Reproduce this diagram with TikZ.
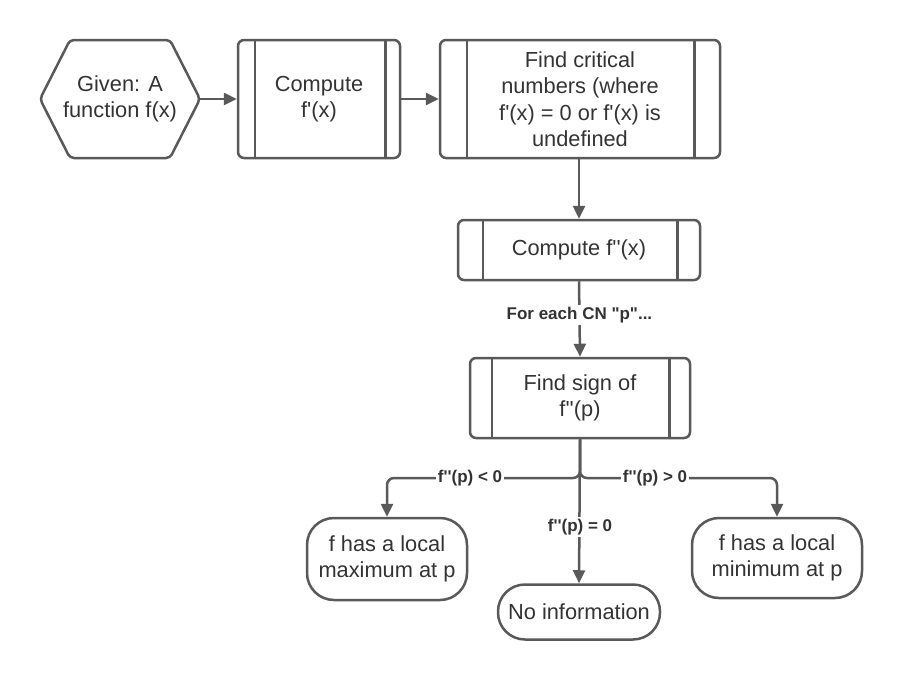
\documentclass[tikz,border=0pt]{standalone}
\usepackage{fontspec}
\setmainfont{Liberation Sans}[Ligatures=TeXOff]
\usetikzlibrary{arrows.meta}
\definecolor{ln}{HTML}{595959}
\definecolor{tx}{HTML}{333333}
\begin{document}
\begin{tikzpicture}[x=1pt,y=-1pt,
  line width=2.5pt,
  every node/.style={text=tx},
  body/.style={font=\fontsize{21.8}{26.5}\selectfont, align=center},
  lbl/.style={font=\bfseries\fontsize{17}{19}\selectfont, fill=white, inner sep=2pt},
  subbox/.style={draw=ln, rounded corners=6pt, body, inner sep=0pt},
  term/.style={draw=ln, rounded corners=27pt, body, inner sep=0pt},
  arr/.style={draw=ln, -{Triangle[length=13pt,width=12pt]}},
]
\useasboundingbox (0,0) rectangle (910,680);

% hexagon
\coordinate (h1) at (40,99);
\coordinate (h2) at (70,40);
\coordinate (h3) at (170,40);
\coordinate (hexR) at (200,99);
\coordinate (h5) at (170,158);
\coordinate (h6) at (70,158);
\draw[ln, rounded corners=4pt] (h1) -- (h2) -- (h3) -- (hexR) -- (h5) -- (h6) -- cycle;
\node[body] (given) at (120,99) {Given: A\\function f(x)};

% subprocess boxes
\node[subbox, minimum width=162pt, minimum height=118pt] (cfp) at (319,99) {Compute\\f'(x)};
\draw[ln] ([xshift=18pt]cfp.north west) -- ([xshift=18pt]cfp.south west);
\draw[ln] ([xshift=-16pt]cfp.north east) -- ([xshift=-16pt]cfp.south east);

\node[subbox, minimum width=280pt, minimum height=118pt] (crit) at (580,99) {Find critical\\numbers (where\\f'(x) = 0 or f'(x) is\\undefined};
\draw[ln] ([xshift=28pt]crit.north west) -- ([xshift=28pt]crit.south west);
\draw[ln] ([xshift=-27pt]crit.north east) -- ([xshift=-27pt]crit.south east);

\node[subbox, minimum width=242pt, minimum height=60pt] (cfpp) at (579,250) {Compute f''(x)};
\draw[ln] ([xshift=26pt]cfpp.north west) -- ([xshift=26pt]cfpp.south west);
\draw[ln] ([xshift=-24pt]cfpp.north east) -- ([xshift=-24pt]cfpp.south east);

\node[subbox, minimum width=220pt, minimum height=80pt] (sign) at (580,398) {Find sign of\\f''(p)};
\draw[ln] ([xshift=23pt]sign.north west) -- ([xshift=23pt]sign.south west);
\draw[ln] ([xshift=-22pt]sign.north east) -- ([xshift=-22pt]sign.south east);

% terminals
\node[term, minimum width=160pt, minimum height=82pt] (max) at (387,559) {f has a local\\maximum at p};
\node[term, minimum width=162pt, minimum height=55pt] (noinfo) at (579,612) {No information};
\node[term, minimum width=170pt, minimum height=80pt] (min) at (777,558) {f has a local\\minimum at p};

% connectors
\draw[arr] (hexR) -- (cfp.west);
\draw[arr] (cfp.east) -- (crit.west);
\draw[arr] (crit.south -| cfpp.north) -- (cfpp.north);
\draw[arr] (cfpp.south) -- node[lbl, pos=0.45] {For each CN "p"...} (sign.north);

\coordinate (br) at (580,478);
\draw[arr, rounded corners=7pt] (sign.south) -- (br) -| (max.north);
\draw[arr, rounded corners=7pt] (sign.south) -- (br) -| (min.north);
\draw[arr] (sign.south) -- (noinfo.north);
\node[lbl] (lneg) at (470,478) {f''(p) < 0};
\node[lbl] (lpos) at (655,478) {f''(p) > 0};
\node[lbl] (lzero) at (580,527) {f''(p) = 0};
\end{tikzpicture}
\end{document}
